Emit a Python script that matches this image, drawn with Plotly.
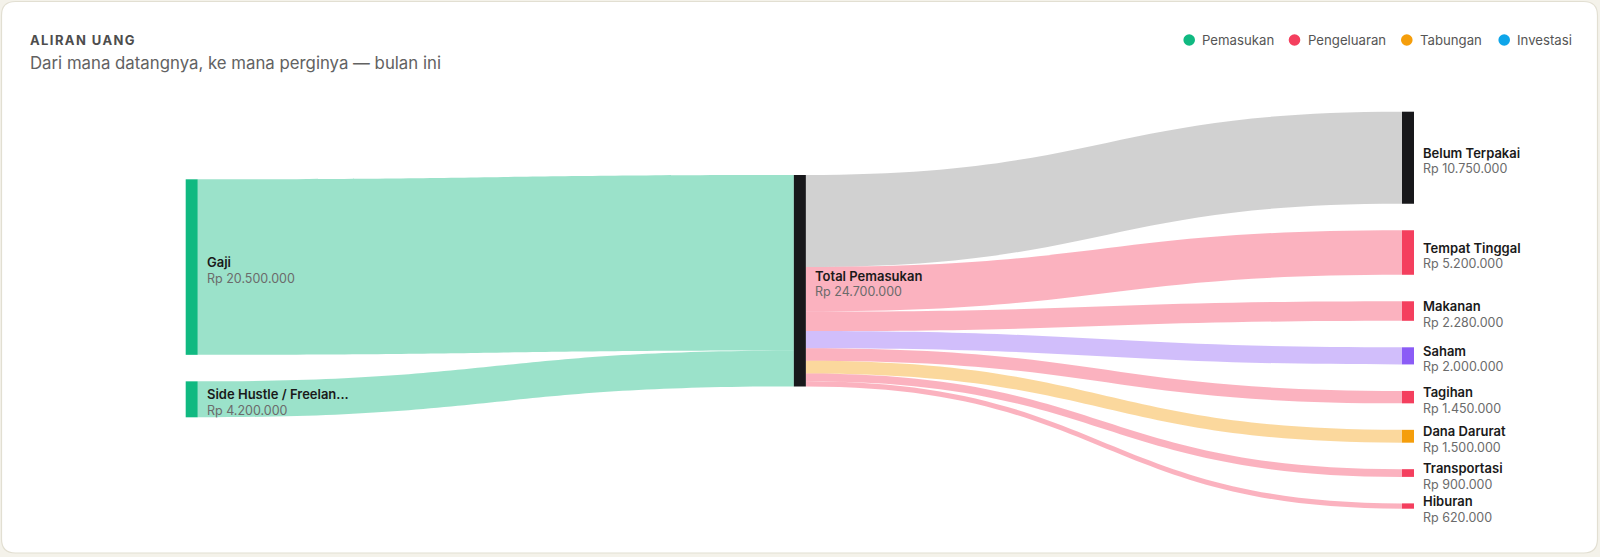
import plotly.graph_objects as go

W, H = 1600, 557

# ---------------- data ----------------
node_names = ["Gaji", "Side Hustle / Freelan...", "Total Pemasukan",
              "Belum Terpakai", "Tempat Tinggal", "Makanan", "Saham",
              "Tagihan", "Dana Darurat", "Transportasi", "Hiburan"]
node_values = [20500000, 4200000, 24700000,
               10750000, 5200000, 2280000, 2000000,
               1450000, 1500000, 900000, 620000]
node_columns = [0, 0, 1, 2, 2, 2, 2, 2, 2, 2, 2]
node_colors = ["#10b981", "#10b981", "#18181b",
               "#18181b", "#f43f5e", "#f43f5e", "#8b5cf6",
               "#f43f5e", "#f59e0b", "#f43f5e", "#f43f5e"]

link_source = [0, 1, 2, 2, 2, 2, 2, 2, 2, 2]
link_target = [2, 2, 3, 4, 5, 6, 7, 8, 9, 10]
link_values = [20500000, 4200000, 10750000, 5200000, 2280000,
               2000000, 1450000, 1500000, 900000, 620000]
link_colors = ["rgba(16,185,129,0.42)", "rgba(16,185,129,0.42)",
               "rgba(24,24,27,0.2)", "rgba(244,63,94,0.4)",
               "rgba(244,63,94,0.4)", "rgba(139,92,246,0.4)",
               "rgba(244,63,94,0.4)", "rgba(245,158,11,0.4)",
               "rgba(244,63,94,0.4)", "rgba(244,63,94,0.4)"]

legend_labels = ["Pemasukan", "Pengeluaran", "Tabungan", "Investasi"]
legend_colors = ["#10b981", "#f43f5e", "#f59e0b", "#0ea5e9"]

title_text = "ALIRAN UANG"
subtitle_text = "Dari mana datangnya, ke mana perginya — bulan ini"

# ---------------- layout geometry (pixels) ----------------
DX0, DX1 = 185.7, 1414.0
DY0, DY1 = 111.7, 508.7
THICK = 12
PAD = 26.5
dom_w = DX1 - DX0
dom_h = DY1 - DY0
FONT = "Inter, Roboto, sans-serif"
TXT_SHIFT = 3  # compensate annotation inner padding

# scale as plotly computes it (column with most nodes)
n_right = sum(1 for c in node_columns if c == 2)
right_total = sum(v for v, c in zip(node_values, node_columns) if c == 2)
ky = (dom_h - (n_right - 1) * PAD) / right_total

col_start = {0: 67.6, 1: 63.3, 2: 0.0}
col_cursor = dict(col_start)
node_top, node_h = [], []
for v, c in zip(node_values, node_columns):
    h = v * ky
    node_top.append(col_cursor[c])
    node_h.append(h)
    col_cursor[c] += h + PAD

col_xc = {0: THICK / 2, 1: dom_w / 2, 2: dom_w - THICK / 2}
node_x = [col_xc[c] / dom_w for c in node_columns]
node_y = [(t + h / 2) / dom_h for t, h in zip(node_top, node_h)]

fig = go.Figure(go.Sankey(
    arrangement="fixed",
    domain=dict(x=[DX0 / W, DX1 / W], y=[1 - DY1 / H, 1 - DY0 / H]),
    node=dict(
        label=["" for _ in node_names],
        x=node_x, y=node_y,
        color=node_colors,
        pad=PAD, thickness=THICK,
        line=dict(width=0),
        hoverinfo="none",
    ),
    link=dict(source=link_source, target=link_target, value=link_values,
              color=link_colors, hoverinfo="none"),
))


def fmt_rp(v):
    return "Rp " + f"{v:,}".replace(",", ".")


annotations = []
for i, name in enumerate(node_names):
    xc = DX0 + col_xc[node_columns[i]]
    lx = xc + THICK / 2 + 10 - TXT_SHIFT
    cy = DY0 + node_top[i] + node_h[i] / 2
    annotations.append(dict(
        x=lx / W, y=1 - (cy - 5) / H, xref="paper", yref="paper",
        xanchor="left", yanchor="middle", showarrow=False,
        text=name, font=dict(family=FONT, size=13, color="#1a1a1a", weight=600)))
    annotations.append(dict(
        x=lx / W, y=1 - (cy + 11) / H, xref="paper", yref="paper",
        xanchor="left", yanchor="middle", showarrow=False,
        text=fmt_rp(node_values[i]), font=dict(family=FONT, size=12.5, color="#6b6b6b")))

# title / subtitle
annotations.append(dict(
    x=(30.5 - TXT_SHIFT) / W, y=1 - 40 / H, xref="paper", yref="paper",
    xanchor="left", yanchor="middle", showarrow=False,
    text="<span style='letter-spacing:1.4px'>" + title_text + "</span>",
    font=dict(family=FONT, size=13, color="#4d4d4d", weight=700)))
annotations.append(dict(
    x=(30.5 - TXT_SHIFT) / W, y=1 - 63 / H, xref="paper", yref="paper",
    xanchor="left", yanchor="middle", showarrow=False, text=subtitle_text,
    font=dict(family=FONT, size=16.8, color="#626262")))

# legend (custom, top-right)
legend_cx = [1189.2, 1294.5, 1406.8, 1504.2]
shapes = []

# card background
x0, y0, x1, y1, r = 1.5, 1.5, 1597.5, 553.0, 14


def px(x):
    return x / W


def py(y):
    return 1 - y / H


card_path = (f"M {px(x0 + r)},{py(y0)} L {px(x1 - r)},{py(y0)} "
             f"Q {px(x1)},{py(y0)} {px(x1)},{py(y0 + r)} "
             f"L {px(x1)},{py(y1 - r)} Q {px(x1)},{py(y1)} {px(x1 - r)},{py(y1)} "
             f"L {px(x0 + r)},{py(y1)} Q {px(x0)},{py(y1)} {px(x0)},{py(y1 - r)} "
             f"L {px(x0)},{py(y0 + r)} Q {px(x0)},{py(y0)} {px(x0 + r)},{py(y0)} Z")
shapes.append(dict(type="path", path=card_path, xref="paper", yref="paper",
                   fillcolor="#ffffff", line=dict(color="#e2dfd2", width=1.2), layer="below"))

for lab, col, cx in zip(legend_labels, legend_colors, legend_cx):
    rr = 5.8
    shapes.append(dict(type="circle", xref="paper", yref="paper",
                       x0=(cx - rr) / W, x1=(cx + rr) / W,
                       y0=1 - (40 + rr) / H, y1=1 - (40 - rr) / H,
                       fillcolor=col, line=dict(width=0), layer="above"))
    annotations.append(dict(
        x=(cx + 14 - TXT_SHIFT) / W, y=1 - 40 / H, xref="paper", yref="paper",
        xanchor="left", yanchor="middle", showarrow=False, text=lab,
        font=dict(family=FONT, size=13.2, color="#555555")))

fig.update_layout(
    width=W, height=H,
    margin=dict(l=0, r=0, t=0, b=0),
    paper_bgcolor="#f4f2ea",
    plot_bgcolor="#ffffff",
    annotations=annotations,
    shapes=shapes,
    showlegend=False,
    font=dict(family=FONT),
)

fig.write_html("out.html")
